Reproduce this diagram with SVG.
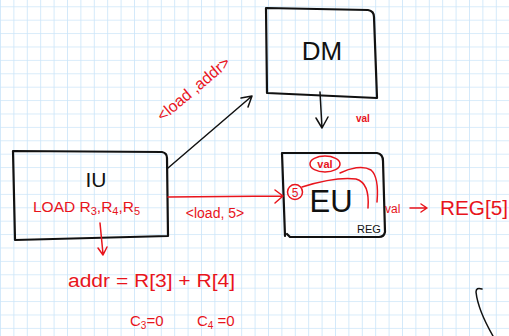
<svg xmlns="http://www.w3.org/2000/svg" width="509" height="336" viewBox="0 0 509 336">
  <defs>
    <pattern id="grid" patternUnits="userSpaceOnUse" x="0" y="6.3" width="13.4" height="13.4">
      <path d="M0,0 H13.4 M0,0 V13.4" fill="none" stroke="#cbe5f9" stroke-width="1.6"/>
    </pattern>
    <style>
      .box { fill: none; stroke: #111; stroke-width: 2.2; stroke-linejoin: round; stroke-linecap: round; }
      .ink { fill: none; stroke: #111; stroke-width: 1.5; stroke-linecap: round; stroke-linejoin: round; }
      .red { fill: none; stroke: #e8141c; stroke-width: 1.5; stroke-linecap: round; stroke-linejoin: round; }
      .lbl { font-family: "Liberation Sans", "DejaVu Sans", sans-serif; fill: #111; }
      .rlbl { font-family: "Liberation Sans", "DejaVu Sans", sans-serif; fill: #e8141c; }
    </style>
  </defs>

  <!-- squared paper background -->
  <rect width="509" height="336" fill="#ffffff"/>
  <rect width="509" height="336" fill="url(#grid)"/>

  <!-- DM unit -->
  <g id="dm">
    <path class="box" d="M266,8 L368,10 Q374,11 374,17 L377,98 L267,93 Z"/>
    <text class="lbl" x="322" y="60" font-size="26" text-anchor="middle">DM</text>
  </g>

  <!-- IU unit -->
  <g id="iu">
    <path class="box" d="M13,151 L162,152 Q167,153 167,158 L168,236 L15,240 Z"/>
    <text class="lbl" x="96" y="187" font-size="21" text-anchor="middle">IU</text>
    <text class="rlbl" x="33" y="212" font-size="15.5">LOAD R<tspan font-size="11" dy="3">3</tspan><tspan dy="-3">,R</tspan><tspan font-size="11" dy="3">4</tspan><tspan dy="-3">,R</tspan><tspan font-size="11" dy="3">5</tspan></text>
  </g>

  <!-- EU unit with register file -->
  <g id="eu">
    <path class="box" d="M282,153 L377,153 Q383,154 383,161 L385,232 Q384,237 379,237 L290,237 L287,234 M282,153 L285,236"/>
    <text class="lbl" x="331" y="212" font-size="31" text-anchor="middle">EU</text>
    <text class="lbl" x="357" y="233" font-size="11">REG</text>
    <circle class="red" cx="295" cy="192" r="7.5"/>
    <text class="rlbl" x="295" y="197" font-size="12" text-anchor="middle">5</text>
    <ellipse class="red" cx="325" cy="164" rx="15" ry="8"/>
    <text class="rlbl" x="325" y="168" font-size="11" text-anchor="middle" font-weight="bold">val</text>
    <path class="red" d="M302,187 C318,182 340,177 356,179 C367,182 369,195 368,208"/>
    <path class="red" d="M340,173 C350,168 363,165 371,170 C378,176 378,190 377,202"/>
  </g>

  <!-- connectors -->
  <g id="connectors">
    <path class="ink" d="M168,168 L252,96 M241,98 L252,96 L248,107"/>
    <path class="ink" d="M320,92 L322,128 M316,118 L322,128 L328,117"/>
    <path class="red" d="M168,197 L283,196 M275,190 L283,196 L275,203"/>
    <path class="red" d="M100,223 L103,254 M98,248 L103,255 L107,247"/>
    <path class="red" d="M410,208 L427,208 M421,204 L427,208 L421,212"/>
  </g>

  <!-- annotations -->
  <g id="notes">
    <text class="rlbl" x="0" y="0" font-size="16" text-anchor="middle" transform="translate(197,93) rotate(-40)">&lt;load ,addr&gt;</text>
    <text class="rlbl" x="215" y="218" font-size="14" text-anchor="middle">&lt;load, 5&gt;</text>
    <text class="rlbl" x="356" y="122" font-size="10" font-weight="bold">val</text>
    <text class="rlbl" x="385" y="213" font-size="12">val</text>
    <text class="rlbl" x="440" y="215" font-size="20" textLength="68" lengthAdjust="spacingAndGlyphs">REG[5]</text>
    <text class="rlbl" x="68" y="287" font-size="18" textLength="167" lengthAdjust="spacingAndGlyphs">addr = R[3] + R[4]</text>
    <text class="rlbl" x="130" y="326" font-size="15">C<tspan font-size="10" dy="3">3</tspan><tspan dy="-3">=0</tspan></text>
    <text class="rlbl" x="197" y="326" font-size="15">C<tspan font-size="10" dy="3">4</tspan><tspan dy="-3"> =0</tspan></text>
  </g>

  <!-- stray stroke at lower right -->
  <path class="ink" d="M482,289 Q476,287 476,292 Q478,310 493,336"/>
</svg>
